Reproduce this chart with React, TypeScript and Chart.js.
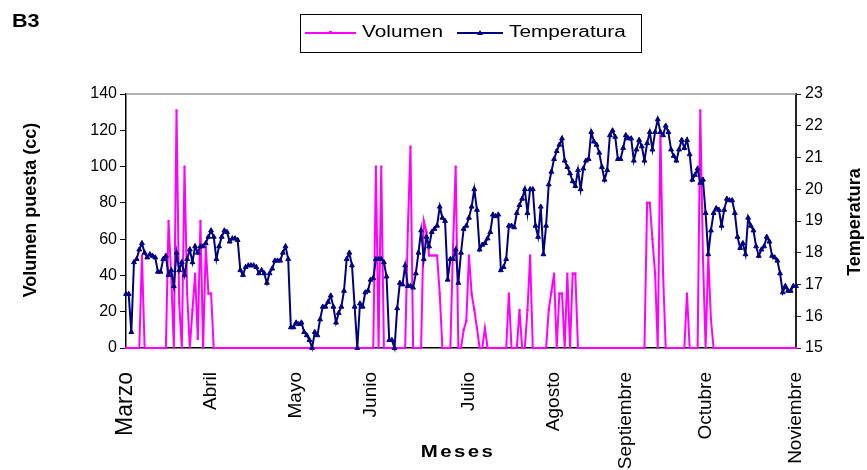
import { useEffect, useRef } from 'react';
import { Chart, registerables } from 'chart.js';

Chart.register(...registerables);

const FONT = '"Liberation Sans", Arial, sans-serif';

const MONTHS = ['Marzo', 'Abril', 'Mayo', 'Junio', 'Julio', 'Agosto', 'Septiembre', 'Octubre', 'Noviembre'];
const MONTH_INDEX = [0, 32, 64, 92, 129, 161, 188, 218, 252];

const TEMPERATURA = [
  16.7, 16.7, 15.5, 17.7, 17.8, 18.1, 18.3, 18.0, 17.85, 17.95,
  17.9, 17.85, 17.4, 17.4, 17.8, 17.9, 17.3, 17.45, 16.95, 18.0,
  17.45, 17.7, 17.3, 17.8, 18.1, 17.7, 18.2, 18.0, 18.2, 18.2,
  18.3, 18.5, 18.7, 18.5, 17.8, 18.2, 18.5, 18.7, 18.65, 18.35,
  18.45, 18.45, 18.4, 17.45, 17.3, 17.55, 17.6, 17.6, 17.6, 17.55,
  17.35, 17.45, 17.35, 17.05, 17.35, 17.5, 17.75, 17.75, 17.75, 18.0,
  18.2, 17.8, 15.65, 15.65, 15.8, 15.75, 15.8, 15.5, 15.4, 15.25,
  15.0, 15.5, 15.4, 15.9, 16.3, 16.3, 16.45, 16.65, 16.3, 15.8,
  16.1, 16.3, 16.8, 17.8, 18.0, 17.6, 16.3, 15.0, 16.4, 16.3,
  16.75, 16.8, 17.15, 17.2, 17.8, 17.8, 17.8, 17.7, 17.25, 15.25,
  15.25, 15.0, 16.25, 17.05, 17.0, 17.6, 16.95, 16.95, 16.9, 17.35,
  18.0, 18.7, 17.8, 18.5, 18.2, 18.65, 18.75, 18.85, 19.45, 19.1,
  19.0, 17.15, 17.8, 17.8, 18.1, 17.05, 18.0, 18.75, 18.85, 19.1,
  19.45, 20.0, 19.35, 18.1, 18.25, 18.3, 18.45, 18.65, 19.2, 19.15,
  19.2, 17.45, 17.55, 17.8, 18.85, 18.85, 18.8, 19.25, 19.5, 19.7,
  20.0, 19.25, 20.0, 20.0, 18.85, 18.5, 19.45, 17.95, 18.85, 20.15,
  20.55, 20.95, 21.2, 21.4, 21.6, 20.9, 20.7, 20.5, 20.25, 20.1,
  20.6, 20.0, 20.65, 20.9, 20.95, 21.8, 21.5, 21.4, 21.15, 20.7,
  20.3, 20.6, 21.7, 21.85, 21.65, 20.95, 20.95, 21.3, 21.7, 21.6,
  21.6, 20.9, 21.25, 21.55, 21.35, 20.9, 21.45, 21.8, 21.25, 21.8,
  22.2, 21.8, 21.7, 22.0, 21.8, 21.25, 21.05, 20.9, 21.25, 21.55,
  21.3, 21.55, 21.1, 20.3, 20.45, 20.65, 20.2, 20.3, 19.25, 17.95,
  18.7, 19.25, 19.4, 19.35, 18.85, 19.35, 19.7, 19.65, 19.65, 19.25,
  18.5, 18.15, 18.3, 17.95, 19.1, 18.85, 18.7, 18.2, 17.9, 18.1,
  18.2, 18.5, 18.35, 17.9, 17.85, 17.75, 17.35, 16.75, 16.95, 16.8,
  16.8, 16.95, 16.95,
];

const VOLUMEN = [
  0, 0, 0, 0, 0, 0, 51, 0, 0, 0, 0, 0, 0, 0, 0, 0, 70, 40, 0, 131,
  25, 0, 100, 30, 0, 21, 41, 5, 70, 0, 56, 30, 30, 0, 0, 0, 0, 0, 0, 0,
  0, 0, 0, 0, 0, 0, 0, 0, 0, 0, 0, 0, 0, 0, 0, 0, 0, 0, 0, 0,
  0, 0, 0, 0, 0, 0, 0, 0, 0, 0, 0, 0, 0, 0, 0, 0, 0, 0, 0, 0,
  0, 0, 0, 0, 0, 0, 0, 0, 0, 0, 0, 0, 0, 0, 100, 0, 100, 0, 0, 0,
  0, 0, 0, 0, 0, 0, 65, 111, 0, 0, 0, 0, 70, 64, 51, 51, 51, 51, 30, 0,
  0, 0, 0, 56, 100, 0, 0, 10, 15, 51, 30, 21, 11, 0, 0, 11, 0, 0, 0, 0,
  0, 0, 0, 0, 30, 0, 0, 0, 21, 0, 0, 21, 51, 0, 0, 0, 0, 0, 0, 21,
  31, 41, 0, 30, 30, 0, 41, 0, 41, 41, 0, 0, 0, 0, 0, 0, 0, 0, 0, 0,
  0, 0, 0, 0, 0, 0, 0, 0, 0, 0, 0, 0, 0, 0, 0, 0, 80, 80, 60, 41,
  0, 120, 41, 0, 0, 0, 0, 0, 0, 0, 0, 30, 0, 0, 0, 0, 131, 50, 0, 51,
  16, 0, 0, 0, 0, 0, 0, 0, 0, 0, 0, 0, 0, 0, 0, 0, 0, 0, 0, 0,
  0, 0, 0, 0, 0, 0, 0, 0, 0, 0, 0, 0, 0,
];

const CATEGORIES = TEMPERATURA.map((_, i) => {
  const m = MONTH_INDEX.indexOf(i);
  return m >= 0 ? MONTHS[m] : '';
});

const MAGENTA = '#FF00FF';
const NAVY = '#000080';

function stretchText(ctx: CanvasRenderingContext2D, text: string, x: number, y: number, font: string, sx: number, align: CanvasTextAlign, spacing = '0px') {
  ctx.save();
  ctx.translate(x, y);
  ctx.scale(sx, 1);
  ctx.font = font;
  (ctx as any).letterSpacing = spacing;
  ctx.textAlign = align;
  ctx.textBaseline = 'middle';
  ctx.fillStyle = '#000';
  ctx.fillText(text, 0, 0);
  ctx.restore();
}

function rotText(ctx: CanvasRenderingContext2D, text: string, x: number, y: number, font: string, align: CanvasTextAlign) {
  ctx.save();
  ctx.translate(x, y);
  ctx.rotate(-Math.PI / 2);
  ctx.font = font;
  ctx.textAlign = align;
  ctx.textBaseline = 'middle';
  ctx.fillStyle = '#000';
  ctx.fillText(text, 0, 0);
  ctx.restore();
}

const decor = {
  id: 'decor',
  beforeDatasetsDraw(chart: any) {
    const { ctx, chartArea } = chart;
    ctx.save();
    ctx.strokeStyle = '#9a9a9a';
    ctx.lineWidth = 1.5;
    ctx.beginPath();
    ctx.moveTo(chartArea.left, chartArea.top);
    ctx.lineTo(chartArea.right, chartArea.top);
    ctx.stroke();
    ctx.restore();
  },
  afterDraw(chart: any) {
    const { ctx } = chart;
    const xs = chart.scales.x;
    MONTHS.forEach((m, i) => {
      const px = xs.getPixelForValue(MONTH_INDEX[i]);
      rotText(ctx, m, px, 372, `${i === 0 ? 23 : 19}px ${FONT}`, 'right');
    });
    // titles
    stretchText(ctx, 'B3', 12, 22, `bold 18px ${FONT}`, 1.2, 'left');
    rotText(ctx, 'Volumen puesta (cc)', 31, 210, `bold 18px ${FONT}`, 'center');
    rotText(ctx, 'Temperatura', 855, 222, `bold 18px ${FONT}`, 'center');
    stretchText(ctx, 'Meses', 458, 452, `bold 17px ${FONT}`, 1.2, 'center', '2px');
    // legend
    ctx.save();
    ctx.strokeStyle = '#000';
    ctx.lineWidth = 1;
    ctx.strokeRect(300.5, 14.5, 341, 38);
    ctx.lineWidth = 2;
    ctx.strokeStyle = MAGENTA;
    ctx.beginPath();
    ctx.moveTo(305, 33);
    ctx.lineTo(356, 33);
    ctx.stroke();
    ctx.fillStyle = MAGENTA;
    ctx.fillRect(329, 31, 3, 3);
    ctx.strokeStyle = NAVY;
    ctx.beginPath();
    ctx.moveTo(457, 33);
    ctx.lineTo(503, 33);
    ctx.stroke();
    ctx.fillStyle = NAVY;
    ctx.beginPath();
    ctx.moveTo(480, 30);
    ctx.lineTo(483, 35);
    ctx.lineTo(477, 35);
    ctx.closePath();
    ctx.fill();
    ctx.restore();
    stretchText(ctx, 'Volumen', 362, 33, `16px ${FONT}`, 1.3, 'left');
    stretchText(ctx, 'Temperatura', 509, 33, `16px ${FONT}`, 1.3, 'left');
  },
};

export default function App() {
  const ref = useRef<HTMLCanvasElement | null>(null);

  useEffect(() => {
    if (!ref.current) return;
    const chart = new Chart(ref.current, {
      type: 'line',
      data: {
        labels: CATEGORIES,
        datasets: [
          {
            label: 'Volumen',
            data: VOLUMEN,
            yAxisID: 'y',
            borderColor: MAGENTA,
            backgroundColor: MAGENTA,
            borderWidth: 2,
            pointStyle: 'rect',
            pointRadius: 1.5,
            pointBorderWidth: 0,
            tension: 0,
            clip: false as any,
            order: 2,
          },
          {
            label: 'Temperatura',
            data: TEMPERATURA,
            yAxisID: 'y1',
            borderColor: NAVY,
            backgroundColor: NAVY,
            borderWidth: 2,
            pointStyle: 'triangle',
            pointRadius: 2.8,
            pointBorderWidth: 1,
            tension: 0,
            clip: false as any,
            order: 1,
          },
        ],
      },
      options: {
        animation: false,
        responsive: true,
        maintainAspectRatio: false,
        layout: { padding: { top: 94, left: 0, right: 0, bottom: 0 } },
        plugins: { legend: { display: false }, tooltip: { enabled: false }, title: { display: false } },
        scales: {
          x: {
            type: 'category',
            offset: false,
            grid: { display: false },
            border: { display: true, color: '#000', width: 1.5 },
            ticks: { display: false },
            afterFit: (s: any) => { s.height = 122; },
          },
          y: {
            position: 'left',
            min: 0,
            max: 140,
            ticks: { stepSize: 20, color: '#000', font: { family: FONT, size: 16 }, padding: 3 },
            grid: { display: true, drawOnChartArea: false, drawTicks: true, tickLength: 6, color: '#000', lineWidth: 1 },
            border: { display: true, color: '#000', width: 1.5 },
            afterFit: (s: any) => { s.width = 126; },
          },
          y1: {
            position: 'right',
            min: 15,
            max: 23,
            ticks: { stepSize: 1, color: '#000', font: { family: FONT, size: 16 }, padding: 4 },
            grid: { display: true, drawOnChartArea: false, drawTicks: true, tickLength: 5, color: '#222', lineWidth: 1 },
            border: { display: true, color: '#222', width: 2 },
            afterFit: (s: any) => { s.width = 71; },
          },
        },
      },
      plugins: [decor],
    });
    return () => chart.destroy();
  }, []);

  return (
    <div style={{ position: 'fixed', left: 0, top: 0, width: 867, height: 470, background: '#fff' }}>
      <canvas ref={ref} />
    </div>
  );
}
